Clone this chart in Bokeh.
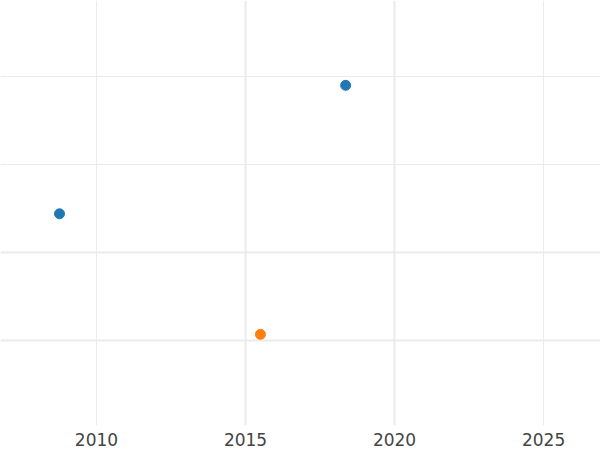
from bokeh.plotting import figure
from bokeh.models import Range1d, FixedTicker, Grid
from bokeh.embed import file_html
from bokeh.resources import INLINE

# data
blue_x = [2008.76, 2018.36]
blue_y = [2.44, 3.90]
orange_x = [2015.50]
orange_y = [1.07]
x_ticks = [2010, 2015, 2020, 2025]
y_ticks = [1, 2, 3, 4]

p = figure(width=600, height=450, output_backend="svg", toolbar_location=None,
           x_range=Range1d(2006.78, 2026.91), y_range=Range1d(0.034, 4.864),
           min_border=0, min_border_bottom=25)
p.outline_line_color = None
p.background_fill_color = "white"
p.border_fill_color = "white"

p.yaxis.visible = False
ax = p.xaxis[0]
ax.ticker = FixedTicker(ticks=x_ticks)
ax.axis_line_color = None
ax.major_tick_line_color = None
ax.minor_tick_line_color = None
ax.major_tick_out = 0
ax.major_tick_in = 0
ax.major_label_text_font = "DejaVu Sans"
ax.major_label_text_font_size = "17px"
ax.major_label_text_color = "#444444"
ax.major_label_text_line_height = 1.0
ax.major_label_standoff = 7

grid_color = "#ebebeb"
p.xgrid.ticker = FixedTicker(ticks=[x_ticks[0], x_ticks[3]])
p.xgrid.grid_line_color = grid_color
p.xgrid.grid_line_width = 1
p.ygrid.ticker = FixedTicker(ticks=[y_ticks[2], y_ticks[3]])
p.ygrid.grid_line_color = grid_color
p.ygrid.grid_line_width = 1
p.add_layout(Grid(dimension=0, ticker=FixedTicker(ticks=[x_ticks[1], x_ticks[2]]),
                  grid_line_color=grid_color, grid_line_width=2))
p.add_layout(Grid(dimension=1, ticker=FixedTicker(ticks=[y_ticks[0], y_ticks[1]]),
                  grid_line_color=grid_color, grid_line_width=2))

p.scatter(blue_x, blue_y, size=10, color="#1f77b4")
p.scatter(orange_x, orange_y, size=10, color="#ff7f0e")

open("out.html", "w").write(file_html(p, INLINE))
